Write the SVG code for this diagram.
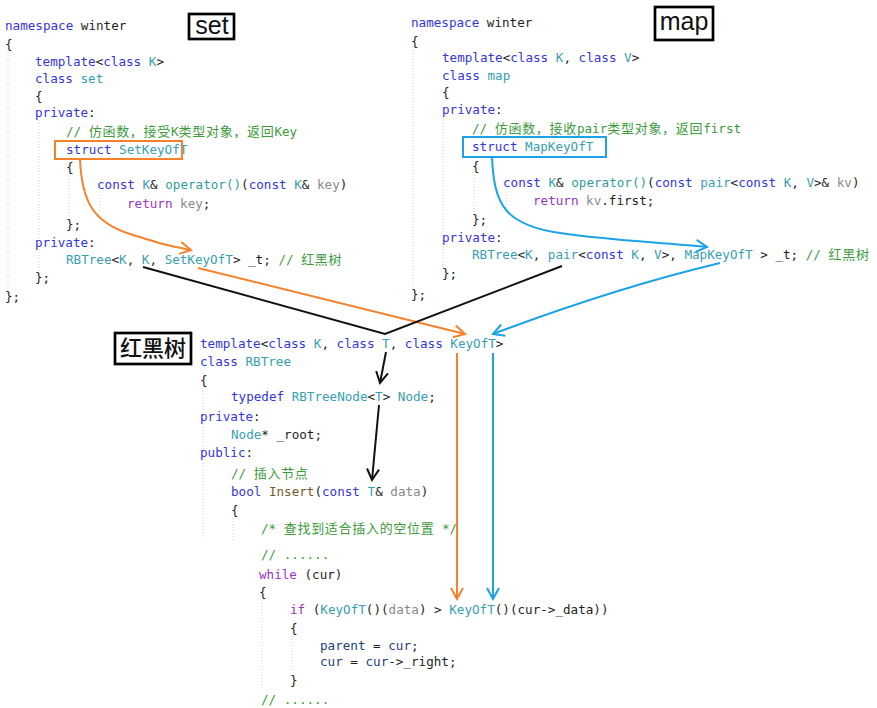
<svg xmlns="http://www.w3.org/2000/svg" width="877" height="708" viewBox="0 0 877 708" xml:space="preserve">
<style>
text{white-space:pre}
.c{font-family:"DejaVu Sans Mono","Liberation Mono","Noto Sans CJK SC",monospace;font-size:12.6px;fill:#1e1e1e}
.k{fill:#3434e0}.t{fill:#36a0b2}.f{fill:#2f9c9c}.m{fill:#3c9b3c}.p{fill:#9a35c8}.g{fill:#8a8a8a}.i{fill:#7a5a28}.l{fill:#23407f}
.cj{font-family:"Noto Sans CJK SC",sans-serif;font-size:13px;letter-spacing:0.7px}
.lab{font-family:"Liberation Sans",Arial,sans-serif;font-size:25px;fill:#111}
.labc{font-family:"Noto Sans CJK SC",sans-serif;font-size:22px;font-weight:500;fill:#111}
.lbox{fill:#fff;stroke:#000;stroke-width:2.7}
.guide{stroke:#d2d2d2;stroke-width:1;stroke-dasharray:1 2;fill:none}
.ao{stroke:#f7812a;stroke-width:2;fill:none}
.ab{stroke:#1aa3e6;stroke-width:2;fill:none}
.ak{stroke:#111;stroke-width:2;fill:none}
</style>
<defs>
<marker id="mo" viewBox="0 0 14 14" refX="12" refY="7" markerWidth="14" markerHeight="14" markerUnits="userSpaceOnUse" orient="auto"><path d="M1,1 L12,7 L1,13" fill="none" stroke="#f7812a" stroke-width="2"/></marker>
<marker id="mb" viewBox="0 0 14 14" refX="12" refY="7" markerWidth="14" markerHeight="14" markerUnits="userSpaceOnUse" orient="auto"><path d="M1,1 L12,7 L1,13" fill="none" stroke="#1aa3e6" stroke-width="2"/></marker>
<marker id="mk" viewBox="0 0 14 14" refX="12" refY="7" markerWidth="14" markerHeight="14" markerUnits="userSpaceOnUse" orient="auto"><path d="M1,1 L12,7 L1,13" fill="none" stroke="#111" stroke-width="2"/></marker>
</defs>
<rect width="877" height="708" fill="#fff"/>

<g id="set-code">
<path class="guide" d="M8,52V290M39,120V272M69,173V217M100,195V212"/>
<text class="c" x="5" y="30"><tspan class="k">namespace</tspan> winter</text>
<text class="c" x="5" y="49">{</text>
<text class="c" x="35" y="66"><tspan class="k">template</tspan>&lt;<tspan class="k">class</tspan> <tspan class="t">K</tspan>&gt;</text>
<text class="c" x="35" y="83"><tspan class="k">class</tspan> <tspan class="t">set</tspan></text>
<text class="c" x="35" y="101">{</text>
<text class="c" x="35" y="117"><tspan class="k">private</tspan>:</text>
<text class="c m" x="66" y="136">// <tspan class="cj">仿函数，接受</tspan>K<tspan class="cj">类型对象，返回</tspan>Key</text>
<text class="c" x="66" y="154"><tspan class="k">struct</tspan> <tspan class="t">SetKeyOfT</tspan></text>
<text class="c" x="66" y="172">{</text>
<text class="c" x="97" y="189"><tspan class="k">const</tspan> <tspan class="t">K</tspan>&amp; <tspan class="f">operator()</tspan>(<tspan class="k">const</tspan> <tspan class="t">K</tspan>&amp; <tspan class="g">key</tspan>)</text>
<text class="c" x="127" y="208"><tspan class="p">return</tspan> <tspan class="g">key</tspan>;</text>
<text class="c" x="66" y="229">};</text>
<text class="c" x="35" y="247"><tspan class="k">private</tspan>:</text>
<text class="c" x="66" y="264"><tspan class="t">RBTree</tspan>&lt;<tspan class="t">K</tspan>, <tspan class="t">K</tspan>, <tspan class="t">SetKeyOfT</tspan>&gt; _t; <tspan class="m">// <tspan class="cj">红黑树</tspan></tspan></text>
<text class="c" x="35" y="282">};</text>
<text class="c" x="5" y="301">};</text>
<rect x="55" y="141" width="127" height="18" fill="none" stroke="#f7812a" stroke-width="2"/>
</g>

<g id="map-code">
<path class="guide" d="M413,50V287M443,117V268M474,172V213M506,192V208"/>
<text class="c" x="411" y="27"><tspan class="k">namespace</tspan> winter</text>
<text class="c" x="411" y="46">{</text>
<text class="c" x="442" y="62"><tspan class="k">template</tspan>&lt;<tspan class="k">class</tspan> <tspan class="t">K</tspan>, <tspan class="k">class</tspan> <tspan class="t">V</tspan>&gt;</text>
<text class="c" x="442" y="80"><tspan class="k">class</tspan> <tspan class="t">map</tspan></text>
<text class="c" x="442" y="97">{</text>
<text class="c" x="442" y="114"><tspan class="k">private</tspan>:</text>
<text class="c m" x="472" y="133">// <tspan class="cj">仿函数，接收</tspan>pair<tspan class="cj">类型对象，返回</tspan>first</text>
<text class="c" x="472" y="151"><tspan class="k">struct</tspan> <tspan class="t">MapKeyOfT</tspan></text>
<text class="c" x="472" y="171">{</text>
<text class="c" x="503" y="187"><tspan class="k">const</tspan> <tspan class="t">K</tspan>&amp; <tspan class="f">operator()</tspan>(<tspan class="k">const</tspan> <tspan class="t">pair</tspan>&lt;<tspan class="k">const</tspan> <tspan class="t">K</tspan>, <tspan class="t">V</tspan>&gt;&amp; <tspan class="g">kv</tspan>)</text>
<text class="c" x="533" y="205"><tspan class="p">return</tspan> <tspan class="g">kv</tspan>.first;</text>
<text class="c" x="472" y="224">};</text>
<text class="c" x="442" y="242"><tspan class="k">private</tspan>:</text>
<text class="c" x="472" y="259"><tspan class="t">RBTree</tspan>&lt;<tspan class="t">K</tspan>, <tspan class="t">pair</tspan>&lt;<tspan class="k">const</tspan> <tspan class="t">K</tspan>, <tspan class="t">V</tspan>&gt;, <tspan class="t">MapKeyOfT</tspan> &gt; _t; <tspan class="m">// <tspan class="cj">红黑树</tspan></tspan></text>
<text class="c" x="442" y="278">};</text>
<text class="c" x="411" y="299">};</text>
<rect x="463" y="137" width="143" height="20" fill="none" stroke="#1aa3e6" stroke-width="2"/>
</g>

<g id="rbtree-code">
<path class="guide" d="M203,388V540M233,518V540M262,600V690M292,636V672"/>
<text class="c" x="200" y="348"><tspan class="k">template</tspan>&lt;<tspan class="k">class</tspan> <tspan class="t">K</tspan>, <tspan class="k">class</tspan> <tspan class="t">T</tspan>, <tspan class="k">class</tspan> <tspan class="t">KeyOfT</tspan>&gt;</text>
<text class="c" x="200" y="366"><tspan class="k">class</tspan> <tspan class="t">RBTree</tspan></text>
<text class="c" x="200" y="385">{</text>
<text class="c" x="231" y="401"><tspan class="k">typedef</tspan> <tspan class="t">RBTreeNode</tspan>&lt;<tspan class="t">T</tspan>&gt; <tspan class="t">Node</tspan>;</text>
<text class="c" x="200" y="421"><tspan class="k">private</tspan>:</text>
<text class="c" x="231" y="439"><tspan class="t">Node</tspan>* _root;</text>
<text class="c" x="200" y="457"><tspan class="k">public</tspan>:</text>
<text class="c m" x="231" y="478">// <tspan class="cj">插入节点</tspan></text>
<text class="c" x="231" y="496"><tspan class="k">bool</tspan> <tspan class="i">Insert</tspan>(<tspan class="k">const</tspan> <tspan class="t">T</tspan>&amp; <tspan class="g">data</tspan>)</text>
<text class="c" x="231" y="515">{</text>
<text class="c m" x="261" y="533">/* <tspan class="cj">查找到适合插入的空位置</tspan> */</text>
<text class="c m" x="261" y="559">// ......</text>
<text class="c" x="259" y="579"><tspan class="p">while</tspan> (cur)</text>
<text class="c" x="259" y="597">{</text>
<text class="c" x="290" y="614"><tspan class="p">if</tspan> (<tspan class="t">KeyOfT</tspan>()(<tspan class="g">data</tspan>) &gt; <tspan class="t">KeyOfT</tspan>()(cur-&gt;_data))</text>
<text class="c" x="290" y="633">{</text>
<text class="c" x="320" y="650"><tspan class="l">parent</tspan> = <tspan class="l">cur</tspan>;</text>
<text class="c" x="320" y="666"><tspan class="l">cur</tspan> = <tspan class="l">cur</tspan>-&gt;_right;</text>
<text class="c" x="290" y="685">}</text>
<text class="c m" x="261" y="704">// ......</text>
</g>

<g id="label-set"><rect class="lbox" x="189" y="14" width="45" height="25"/><text class="lab" x="212" y="34" text-anchor="middle">set</text></g>
<g id="label-map"><rect class="lbox" x="655" y="7" width="58" height="33"/><text class="lab" x="684" y="30" text-anchor="middle">map</text></g>
<g id="label-rbtree"><rect class="lbox" x="115" y="333" width="76" height="31"/><text class="labc" x="153" y="356" text-anchor="middle">红黑树</text></g>

<g id="connectors">
<path class="ao" d="M80,160 C82,200 92,222 130,234 S170,246 191,250" marker-end="url(#mo)"/>
<path class="ao" d="M198,268 L465,334" marker-end="url(#mo)"/>
<path class="ao" d="M457,353 L457,599" marker-end="url(#mo)"/>
<path class="ab" d="M492,157 C494,205 505,225 560,233 S660,242 707,247" marker-end="url(#mb)"/>
<path class="ab" d="M720,263 Q615,288 493,334" marker-end="url(#mb)"/>
<path class="ab" d="M493,353 L493,599" marker-end="url(#mb)"/>
<path class="ak" d="M143,267 L385,334 L562,266"/>
<path class="ak" d="M386,352 L380,383" marker-end="url(#mk)"/>
<path class="ak" d="M379,405 L372,480" marker-end="url(#mk)"/>
</g>
</svg>
